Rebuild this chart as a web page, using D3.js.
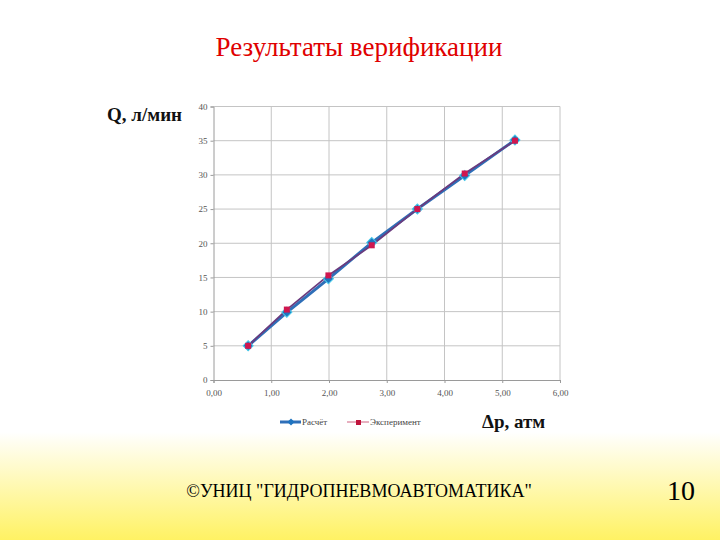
<!DOCTYPE html>
<html><head><meta charset="utf-8">
<script src="https://cdn.jsdelivr.net/npm/d3@7"></script>
<style>body{margin:0;}svg{display:block;} text{font-family:"Liberation Serif","DejaVu Serif",serif;}</style>
</head><body>
<script>
const xTicks = [0,1,2,3,4,5,6];
const yTicks = [0,5,10,15,20,25,30,35,40];
const dp = [0.60, 1.27, 1.99, 2.74, 3.53, 4.35, 5.22];
const calc = [5.0, 9.9, 14.8, 20.1, 25.0, 29.9, 35.1];
const expt = [5.0, 10.3, 15.3, 19.7, 25.0, 30.2, 35.0];
const seriesNames = ["Расчёт", "Эксперимент"];

const W=720,H=540;
const SERIF='"Liberation Serif","DejaVu Serif",serif';
const svg=d3.select("body").append("svg").attr("width",W).attr("height",H);
const defs=svg.append("defs");
const g=defs.append("linearGradient").attr("id","bg").attr("x1",0).attr("y1",0).attr("x2",0).attr("y2",1);
g.append("stop").attr("offset","0").attr("stop-color","#ffffff");
g.append("stop").attr("offset","0.8").attr("stop-color","#ffffff");
g.append("stop").attr("offset","1").attr("stop-color","#fff263");
svg.append("rect").attr("width",W).attr("height",H).attr("fill","url(#bg)");

svg.append("text").attr("x",359).attr("y",56).attr("text-anchor","middle")
  .style("font-family",SERIF).attr("font-size",27).attr("fill","#e00000")
  .text("Результаты верификации");

const x=d3.scaleLinear().domain([0,6]).range([213.5,560]);
const y=d3.scaleLinear().domain([0,40]).range([380,106.5]);

const grid=svg.append("g");
grid.selectAll("line.v").data(xTicks.slice(1)).join("line")
  .attr("x1",d=>x(d)).attr("x2",d=>x(d)).attr("y1",y(0)).attr("y2",y(40))
  .attr("stroke","#c4c4c4").attr("stroke-width",1);
grid.selectAll("line.h").data(yTicks.slice(1)).join("line")
  .attr("x1",x(0)).attr("x2",x(6)).attr("y1",d=>y(d)).attr("y2",d=>y(d))
  .attr("stroke","#c4c4c4").attr("stroke-width",1);

const fmt=d=>d3.format(".2f")(d).replace(".",",");
const xAxis=svg.append("g").attr("transform",`translate(0,${y(0)})`)
  .call(d3.axisBottom(x).tickValues(xTicks).tickFormat(fmt).tickSize(3));
const yAxis=svg.append("g").attr("transform",`translate(${x(0)},0)`)
  .call(d3.axisLeft(y).tickValues(yTicks).tickSize(3));
[xAxis,yAxis].forEach(a=>{
  a.attr("font-family",null);
  a.select(".domain").attr("stroke","#9a9a9a");
  a.selectAll(".tick line").attr("stroke","#9a9a9a");
  a.selectAll("text").style("font-family",SERIF).attr("font-size",9).attr("fill","#555");
});
xAxis.selectAll("text").attr("dy","1.1em");

const line=d3.line().x(d=>x(d[0])).y(d=>y(d[1]));
const calcPts=dp.map((d,i)=>[d,calc[i]]);
const expPts=dp.map((d,i)=>[d,expt[i]]);
svg.append("path").datum(calcPts).attr("d",line).attr("fill","none")
  .attr("stroke","#2f6fb8").attr("stroke-width",3);
svg.append("path").datum(expPts).attr("d",line).attr("fill","none")
  .attr("stroke","#6a3b7e").attr("stroke-width",1.8);
const sq=d3.symbol().type(d3.symbolSquare).size(50);
svg.selectAll("path.c").data(calcPts).join("path")
  .attr("transform",d=>`translate(${x(d[0])},${y(d[1])}) rotate(45)`)
  .attr("d",sq).attr("fill","#1e74c0").attr("stroke","#45c8e8").attr("stroke-width",1);
svg.selectAll("rect.e").data(expPts).join("rect")
  .attr("x",d=>x(d[0])-3).attr("y",d=>y(d[1])-3).attr("width",6).attr("height",6)
  .attr("fill","#d0174f");

// axis titles
svg.append("text").attr("x",107).attr("y",121).style("font-family",SERIF)
  .attr("font-weight","bold").attr("font-size",19).attr("fill","#111").text("Q, л/мин");
svg.append("text").attr("x",482).attr("y",428).style("font-family",SERIF)
  .attr("font-weight","bold").attr("font-size",19).attr("fill","#111").text("Δp, атм");

// legend
const lg=svg.append("g").style("font-family",SERIF).attr("font-size",9).attr("fill","#444");
lg.append("line").attr("x1",280).attr("x2",301).attr("y1",422).attr("y2",422).attr("stroke","#2f6fb8").attr("stroke-width",3);
lg.append("path").attr("transform","translate(291,422) rotate(45)").attr("d",d3.symbol().type(d3.symbolSquare).size(25)).attr("fill","#1e74c0");
lg.append("text").attr("x",302).attr("y",425).text(seriesNames[0]);
lg.append("line").attr("x1",347).attr("x2",369).attr("y1",422).attr("y2",422).attr("stroke","#d06080").attr("stroke-width",1);
lg.append("rect").attr("x",356).attr("y",420).attr("width",5).attr("height",5).attr("fill","#c0143c");
lg.append("text").attr("x",370).attr("y",425).text(seriesNames[1]);

// footer
svg.append("text").attr("x",359).attr("y",497).attr("text-anchor","middle")
  .style("font-family",SERIF).attr("font-size",18).attr("fill","#000")
  .text('©УНИЦ "ГИДРОПНЕВМОАВТОМАТИКА"');
svg.append("text").attr("x",681).attr("y",500).attr("text-anchor","middle")
  .style("font-family",SERIF).attr("font-size",28).attr("fill","#000").text("10");
</script>
</body></html>
